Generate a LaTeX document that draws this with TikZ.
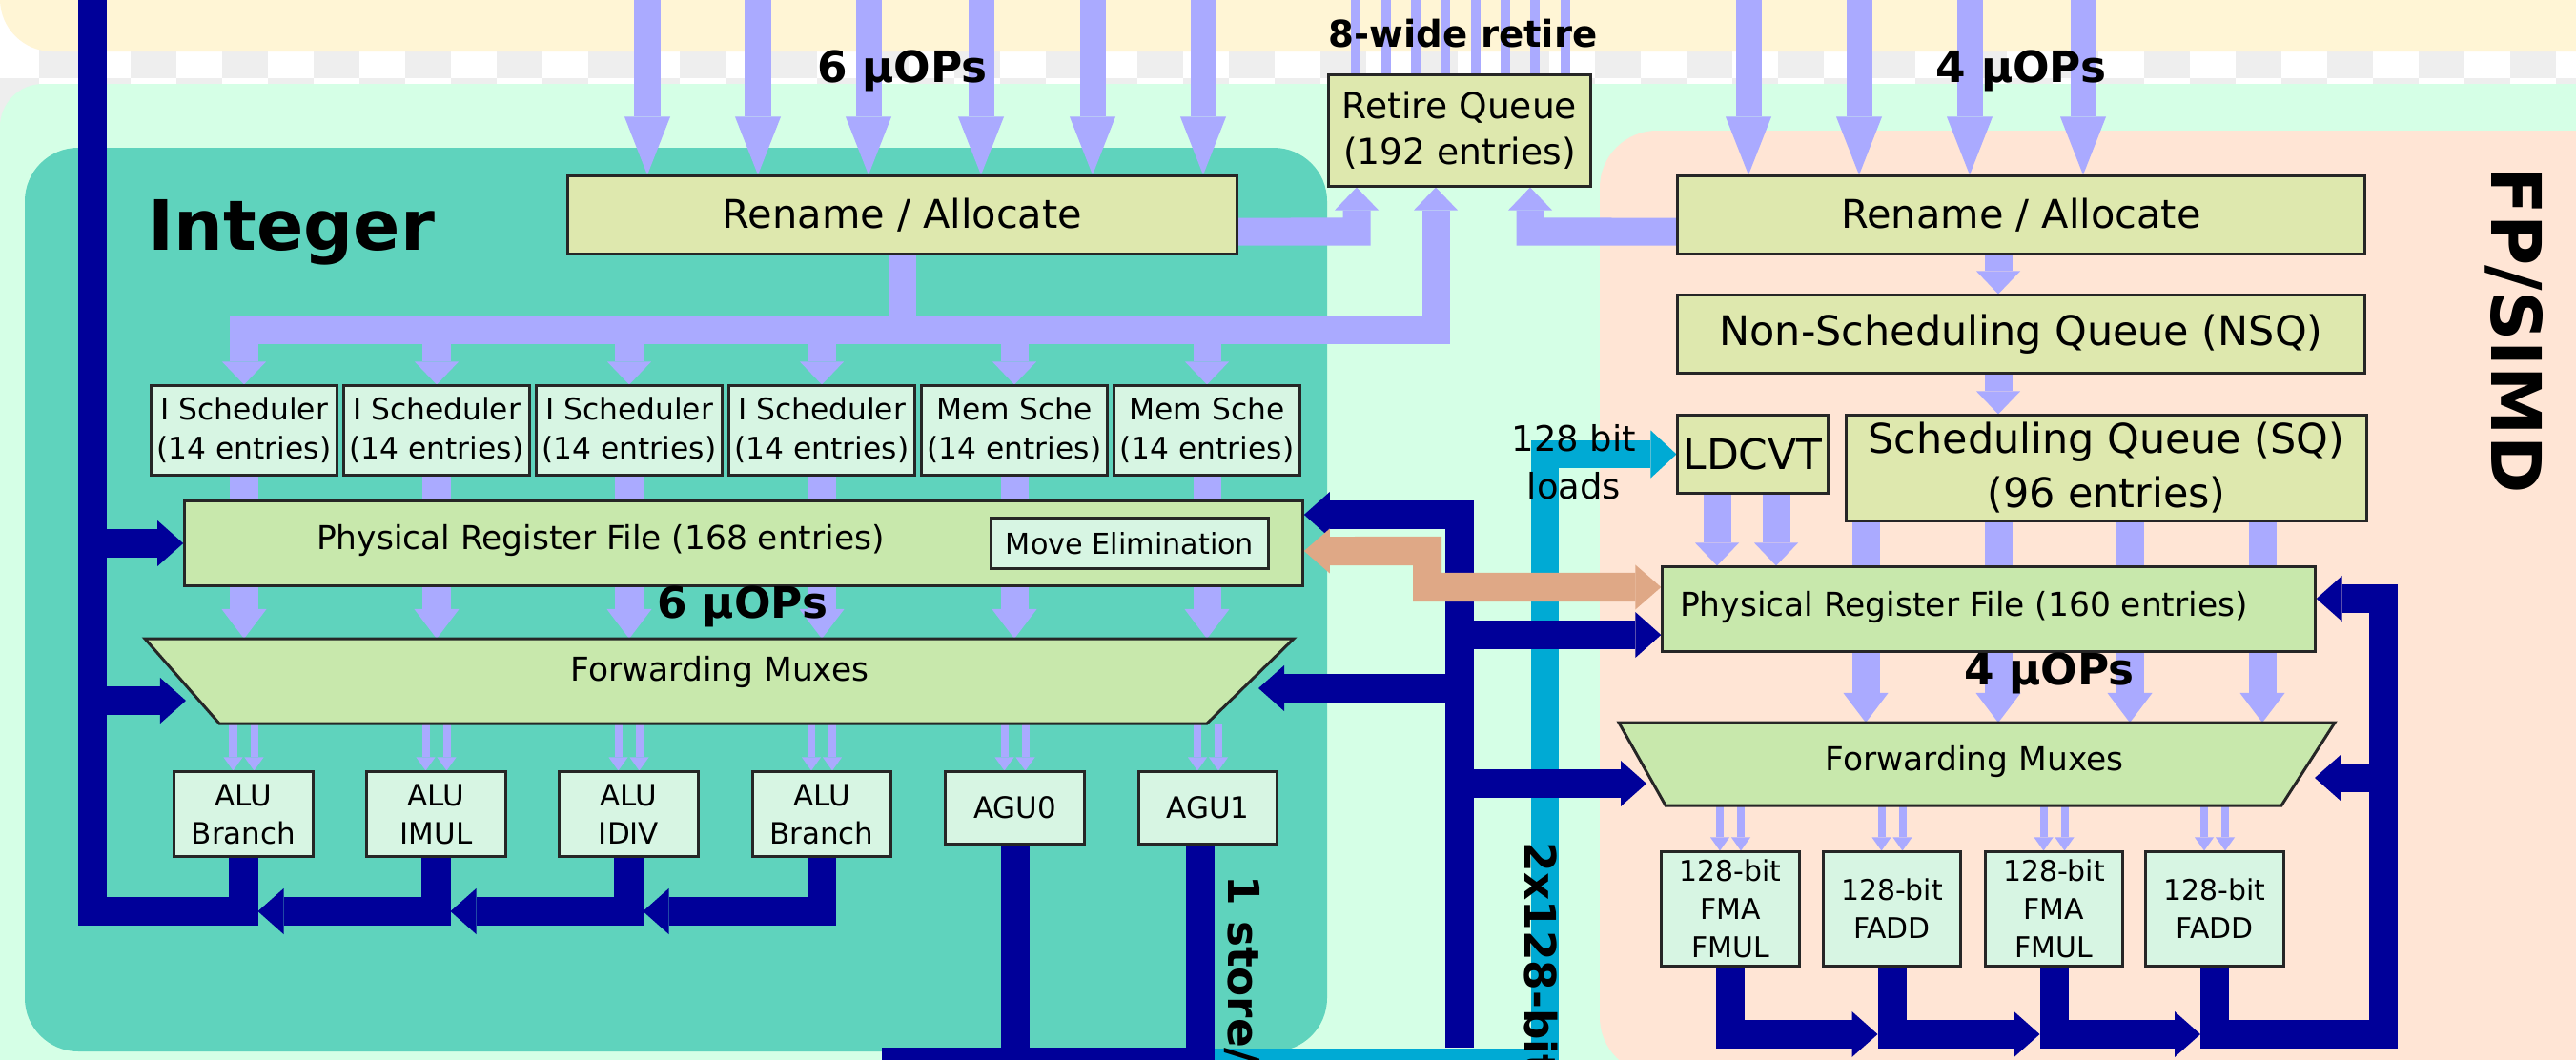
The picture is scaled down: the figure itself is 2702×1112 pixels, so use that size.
\documentclass[tikz,border=0pt]{standalone}
\usepackage{fontspec}
\setmainfont{DejaVu Sans}
\usetikzlibrary{arrows.meta,calc}
\pgfdeclarelayer{bgbox}
\pgfdeclarelayer{conn}
\pgfsetlayers{bgbox,conn,main}
\definecolor{cream}{HTML}{FFF5D5}
\definecolor{chk}{HTML}{EEEEEE}
\definecolor{mint}{HTML}{D5FFE6}
\definecolor{intbg}{HTML}{5FD3BD}
\definecolor{fpbg}{HTML}{FFE5D5}
\definecolor{navyb}{HTML}{000099}
\definecolor{lav}{HTML}{AAAAFF}
\definecolor{cyanb}{HTML}{00AAD4}
\definecolor{tanb}{HTML}{DFA886}
\definecolor{yfill}{HTML}{DEE8AE}
\definecolor{gfill}{HTML}{C8E8AC}
\definecolor{mfill}{HTML}{D7F5E3}
\newcommand\fRen{\fontsize{11.8}{14}\selectfont}
\newcommand\fSch{\fontsize{8.9}{11.7}\selectfont}
\newcommand\fPRF{\fontsize{9.8}{12}\selectfont}
\newcommand\fME{\fontsize{8.6}{10}\selectfont}
\newcommand\fALU{\fontsize{8.8}{11.4}\selectfont}
\newcommand\fFPU{\fontsize{8.5}{11.3}\selectfont}
\newcommand\fRQ{\fontsize{10.7}{13.7}\selectfont}
\newcommand\fSQ{\fontsize{12.2}{16.2}\selectfont}
\newcommand\fLD{\fontsize{12.5}{15}\selectfont}
\newcommand\fLoad{\fontsize{10.5}{12}\selectfont}
\newcommand\fUop{\fontsize{12.9}{15}\selectfont\bfseries}
\newcommand\fRet{\fontsize{11}{13}\selectfont\bfseries}
\newcommand\fTtl{\fontsize{20.7}{24}\selectfont\bfseries}
\begin{document}
\begin{tikzpicture}[x=0.01cm,y=-0.01cm,
  bx/.style={draw=black!85, line width=0.85pt, inner sep=0pt, align=center},
  ybox/.style={bx, fill=yfill},
  gbox/.style={bx, fill=gfill},
  mbox/.style={bx, fill=mfill},
  lavline/.style={draw=lav, line width=0.29cm},
  lavtop/.style={draw=lav, line width=0.27cm, -{Triangle[width=0.48cm,length=0.61cm,line width=0pt]}},
  lavs/.style={lavline, -{Triangle[width=0.46cm,length=0.24cm,line width=0pt]}},
  lavm/.style={lavline, -{Triangle[width=0.47cm,length=0.31cm,line width=0pt]}},
  lavthin/.style={draw=lav, line width=0.1cm},
  lavdbl/.style={draw=lav, line width=0.08cm, -{Triangle[width=0.2cm,length=0.14cm,line width=0pt]}},
  nv/.style={draw=navyb, line width=0.3cm},
  nva/.style={nv, -{Triangle[width=0.48cm,length=0.27cm,line width=0pt]}},
  cya/.style={draw=cyanb, line width=0.29cm, -{Triangle[width=0.5cm,length=0.27cm,line width=0pt]}},
  tna/.style={draw=tanb, line width=0.3cm, {Triangle[width=0.47cm,length=0.27cm,line width=0pt]}-{Triangle[width=0.47cm,length=0.27cm,line width=0pt]}}
]
\useasboundingbox (0,0) rectangle (2702,1112);

\begin{pgfonlayer}{bgbox}
\clip (0,0) rectangle (2702,1112);
\fill[white] (0,0) rectangle (2702,1112);
\foreach \k in {0,...,28}{
  \fill[chk] ({41+96*\k},34) rectangle ++(48,48);
  \fill[chk] ({-7+96*\k},82) rectangle ++(48,48);
}
\fill[cream, rounded corners=0.55cm] (0,-200) rectangle (2900,54);
\fill[mint, rounded corners=0.45cm] (0,88) rectangle (2900,1400);
\fill[intbg, rounded corners=0.56cm] (26,155) rectangle (1392,1103);
\fill[fpbg, rounded corners=0.6cm] (1678,137) rectangle (2760,1127);
\end{pgfonlayer}

% ---------- titles ----------
\node[font=\fTtl, anchor=base west, inner sep=0pt] (intlbl) at (155,262) {Integer};
\node[font=\fTtl, rotate=-90, anchor=base west, inner sep=0pt] (fplbl) at (2613,175) {FP/SIMD};

% ---------- integer nodes ----------
\node[ybox, minimum width=7.01cm, minimum height=0.81cm, font=\fRen] (irn) at (946.5,225.5) {Rename / Allocate};
\node[ybox, minimum width=2.74cm, minimum height=1.16cm, font=\fRQ] (rq) at (1531,137) {Retire Queue\\(192 entries)};
\foreach \x/\t [count=\i] in {256/I Scheduler,458/I Scheduler,660/I Scheduler,862/I Scheduler,1064/Mem Sche,1266/Mem Sche}{
  \node[mbox, minimum width=1.95cm, minimum height=0.93cm, font=\fSch] (s\i) at (\x,451.5) {\t\\(14 entries)};
}
\node[gbox, minimum width=11.72cm, minimum height=0.88cm] (iprf) at (780,570) {};
\node[font=\fPRF] (iprft) at (630,567) {Physical Register File (168 entries)};
\node[mbox, minimum width=2.9cm, minimum height=0.52cm, font=\fME] (me) at (1185,570) {Move Elimination};
\draw[bx, fill=gfill] (152,670) -- (1357,670) -- (1266,759) -- (230,759) -- cycle;
\node[font=\fPRF] (ifm) at (755,705) {Forwarding Muxes};
\node[mbox, minimum width=1.45cm, minimum height=0.88cm, font=\fALU] (a1) at (255.5,854) {ALU\\Branch};
\node[mbox, minimum width=1.45cm, minimum height=0.88cm, font=\fALU] (a2) at (457.5,854) {ALU\\IMUL};
\node[mbox, minimum width=1.45cm, minimum height=0.88cm, font=\fALU] (a3) at (659.5,854) {ALU\\IDIV};
\node[mbox, minimum width=1.45cm, minimum height=0.88cm, font=\fALU] (a4) at (862,854) {ALU\\Branch};
\node[mbox, minimum width=1.45cm, minimum height=0.75cm, font=\fALU] (g0) at (1064.5,847.5) {AGU0};
\node[mbox, minimum width=1.45cm, minimum height=0.75cm, font=\fALU] (g1) at (1267,847.5) {AGU1};

% ---------- FP nodes ----------
\node[ybox, minimum width=7.2cm, minimum height=0.81cm, font=\fRen] (frn) at (2120,225.5) {Rename / Allocate};
\node[ybox, minimum width=7.2cm, minimum height=0.81cm, font=\fSQ] (nsq) at (2120,350.5) {Non-Scheduling Queue (NSQ)};
\node[ybox, minimum width=1.57cm, minimum height=0.81cm, font=\fLD] (ldcvt) at (1838.5,476.5) {LDCVT};
\node[ybox, minimum width=5.45cm, minimum height=1.1cm, font=\fSQ] (sq) at (2209.5,491) {Scheduling Queue (SQ)\\(96 entries)};
\node[gbox, minimum width=6.84cm, minimum height=0.88cm] (fprf) at (2086,639) {};
\node[font=\fPRF] (fprft) at (2060,637) {Physical Register File (160 entries)};
\draw[bx, fill=gfill] (1698,758) -- (2449,758) -- (2393,845) -- (1747,845) -- cycle;
\node[font=\fPRF] (ffm) at (2071,799) {Forwarding Muxes};
\node[mbox, minimum width=1.44cm, minimum height=1.19cm, font=\fFPU] (f1) at (1815,953.5) {128-bit\\FMA\\FMUL};
\node[mbox, minimum width=1.44cm, minimum height=1.19cm, font=\fFPU] (f2) at (1984.5,953.5) {128-bit\\FADD};
\node[mbox, minimum width=1.44cm, minimum height=1.19cm, font=\fFPU] (f3) at (2154.5,953.5) {128-bit\\FMA\\FMUL};
\node[mbox, minimum width=1.44cm, minimum height=1.19cm, font=\fFPU] (f4) at (2323,953.5) {128-bit\\FADD};

% ---------- labels ----------
\node[font=\fUop, anchor=base, inner sep=0pt] (u1) at (946.5,86) {6 µOPs};
\node[font=\fUop, anchor=base, inner sep=0pt] (u2) at (2120,86) {4 µOPs};
\node[font=\fUop, anchor=base, inner sep=0pt] (u3) at (779,648) {6 µOPs};
\node[font=\fUop, anchor=base, inner sep=0pt] (u4) at (2149.5,718) {4 µOPs};
\node[font=\fRet, anchor=base, inner sep=0pt] (ret) at (1534.5,50) {8-wide retire};
\node[font=\fLoad, anchor=base, inner sep=0pt] (ld1) at (1651,473) {128 bit};
\node[font=\fLoad, anchor=base, inner sep=0pt] (ld2) at (1651,523) {loads};
\node[font=\fUop, rotate=-90, anchor=base west, inner sep=0pt] (st) at (1288,918) {1 store/};
\node[font=\fUop, rotate=-90, anchor=base west, inner sep=0pt] (bw) at (1599,883) {2x128-bit};

% ---------- connectors ----------
\begin{pgfonlayer}{conn}
\clip (0,0) rectangle (2702,1112);
% lavender
\foreach \x [count=\i] in {679,795,911,1029,1146,1262}{
  \coordinate (it\i) at (\x,-20);
  \draw[lavtop] (it\i) -- (it\i |- irn.north);
}
\foreach \x [count=\i] in {1834,1950,2066,2185}{
  \coordinate (ft\i) at (\x,-20);
  \draw[lavtop] (ft\i) -- (ft\i |- frn.north);
}
\foreach \x [count=\i] in {1422,1454,1485,1516,1548,1579,1610,1642}{
  \coordinate (rt\i) at (\x,-20);
  \draw[lavthin] (rt\i) -- (rt\i |- rq.north);
}
\coordinate (bus) at (948,346);
\coordinate (rb) at (1506,346);
\draw[lavline] (irn.south) -- (irn.south |- bus);
\draw[lavline, {Triangle[width=0.46cm,length=0.24cm,line width=0pt]}-{Triangle[width=0.46cm,length=0.24cm,line width=0pt]}]
  (s1.north) -- (s1.north |- bus) -- (rb) -- (rb |- rq.south);
\foreach \i in {2,...,6}{ \draw[lavs] (s\i.north |- bus) -- (s\i.north); }
\coordinate (c1) at (1423,243);
\draw[lavs] ([yshift=-0.175cm]irn.east) -- (c1) -- (c1 |- rq.south);
\coordinate (c3) at (1605,243);
\draw[lavs] ([yshift=-0.175cm]frn.west) -- (c3) -- (c3 |- rq.south);
\coordinate (c4) at (2096,0);
\draw[lavs] (c4 |- frn.south) -- (c4 |- nsq.north);
\draw[lavs] (c4 |- nsq.south) -- (c4 |- sq.north);
\foreach \x in {1801,1863}{ \coordinate (tmp) at (\x,0); \draw[lavs] (tmp |- ldcvt.south) -- (tmp |- fprf.north); }
\coordinate (ffmT) at (2071,758);
\foreach \x in {1957,2096,2234,2373}{ \coordinate (tmp) at (\x,0); \draw[lavm] (tmp |- sq.south) -- (tmp |- ffmT); }
\coordinate (ifmT) at (755,670);
\foreach \i in {1,...,6}{
  \draw[lavline] (s\i.south) -- (s\i.south |- iprf.north);
  \draw[lavm] (s\i.south |- iprf.south) -- (s\i.south |- ifmT);
}
\coordinate (ifmB) at (748,759);
\foreach \n in {a1,a2,a3,a4,g0,g1}{
  \draw[lavdbl] ($(\n.north |- ifmB)+(-11,0)$) -- ($(\n.north)+(-11,0)$);
  \draw[lavdbl] ($(\n.north |- ifmB)+(11,0)$) -- ($(\n.north)+(11,0)$);
}
\coordinate (ffmB) at (2071,845);
\foreach \n in {f1,f2,f3,f4}{
  \draw[lavdbl] ($(\n.north |- ffmB)+(-11,0)$) -- ($(\n.north)+(-11,0)$);
  \draw[lavdbl] ($(\n.north |- ffmB)+(11,0)$) -- ($(\n.north)+(11,0)$);
}
% cyan
\coordinate (cyb) at (1274,1114);
\coordinate (cyc) at (1620,1114);
\draw[cya] (cyb) -- (cyc) -- (cyc |- ldcvt.west) -- (ldcvt.west);
% navy, integer side
\coordinate (bl) at (97,956);
\coordinate (L) at (97,-20);
\draw[nv] (a1.south) -- (a1.south |- bl) -- (bl) -- (L);
\draw[nva] (L |- iprf.west) -- (iprf.west);
\coordinate (ifmL) at (195,735);
\draw[nva] (L |- ifmL) -- (ifmL);
\draw[nva] (a2.south) -- (a2.south |- bl) -- ($(a1.south |- bl)+(15,0)$);
\draw[nva] (a3.south) -- (a3.south |- bl) -- ($(a2.south |- bl)+(15,0)$);
\draw[nva] (a4.south) -- (a4.south |- bl) -- ($(a3.south |- bl)+(15,0)$);
\coordinate (bot) at (925,1114);
\coordinate (g1o) at (1259,885);
\draw[nv] (g0.south) -- (g0.south |- bot);
\draw[nv] (g1o) -- (g1o |- bot) -- (bot);
% navy, middle
\coordinate (M) at (1531,1099);
\coordinate (ipe) at ([yshift=0.3cm]iprf.east);
\draw[nva] (M) -- (M |- ipe) -- (ipe);
\coordinate (ifmR) at (1320,722);
\draw[nva] (M |- ifmR) -- (ifmR);
\coordinate (fpw) at ([yshift=-0.27cm]fprf.west);
\draw[nva] (M |- fpw) -- (fpw);
\coordinate (ffmL) at (1727,822);
\draw[nva] (M |- ffmL) -- (ffmL);
% navy, FP side
\coordinate (fb) at (2500,1085);
\draw[nva] (f1.south) -- (f1.south |- fb) -- ($(f2.south |- fb)+(-15,0)$);
\draw[nva] (f2.south) -- (f2.south |- fb) -- ($(f3.south |- fb)+(-15,0)$);
\draw[nva] (f3.south) -- (f3.south |- fb) -- ($(f4.south |- fb)+(-15,0)$);
\coordinate (fpe) at ([yshift=0.11cm]fprf.east);
\draw[nva] (f4.south) -- (f4.south |- fb) -- (fb) -- (fb |- fpe) -- (fpe);
\coordinate (ffmR) at (2428,816);
\draw[nva] (fb |- ffmR) -- (ffmR);
% tan
\coordinate (tn1) at (1497,578);
\coordinate (tn2) at (1497,616);
\draw[tna] ([yshift=-0.08cm]iprf.east) -- (tn1) -- (tn2) -- ([yshift=0.23cm]fprf.west);
\end{pgfonlayer}
\end{tikzpicture}
\end{document}
